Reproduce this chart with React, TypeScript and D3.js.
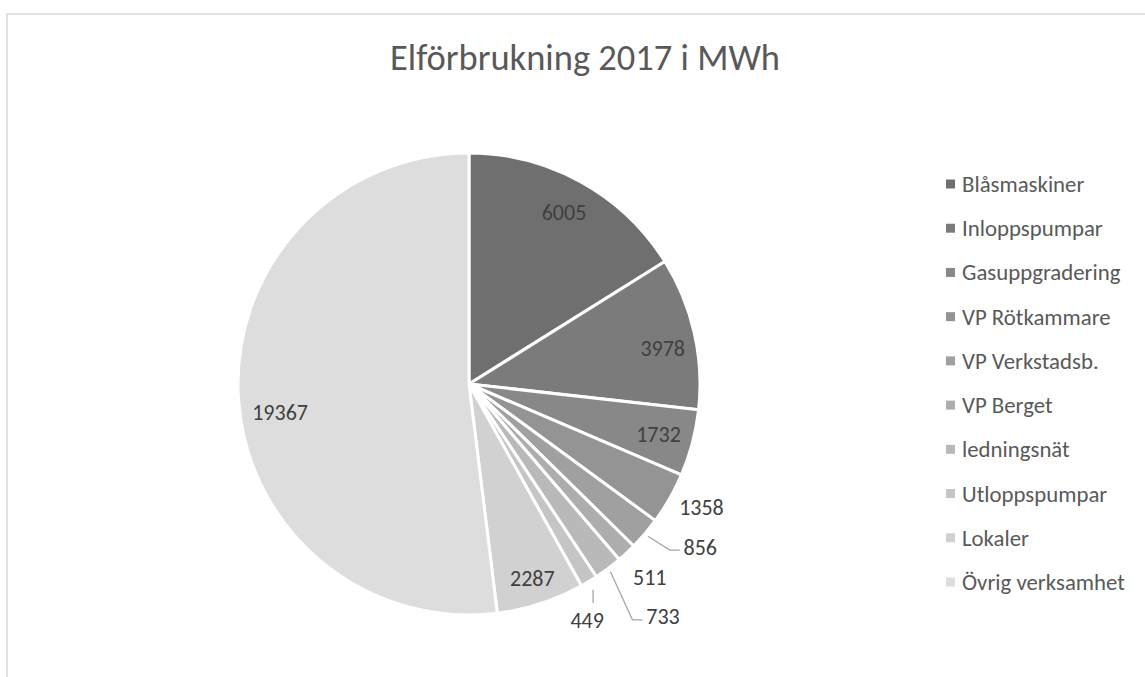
import React from "react";
import * as d3 from "d3";

const categories = [
  "Blåsmaskiner",
  "Inloppspumpar",
  "Gasuppgradering",
  "VP Rötkammare",
  "VP Verkstadsb.",
  "VP Berget",
  "ledningsnät",
  "Utloppspumpar",
  "Lokaler",
  "Övrig verksamhet",
];
const values = [6005, 3978, 1732, 1358, 856, 511, 733, 449, 2287, 19367];
const title = "Elförbrukning 2017 i MWh";

// layout / style (not data)
const W = 1145;
const H = 677;
const CX = 469;
const CY = 384;
const R = 231;
const colors = ["#6f6f6f", "#7b7b7b", "#888888", "#949494", "#a0a0a0", "#adadad", "#b9b9b9", "#c5c5c5", "#d1d1d1", "#dddddd"];
// label placement: radius (px), angle shift from slice mid-angle (deg), leader type
type Place = { r: number; shift: number; leader: "none" | "h" | "v" };
const placements: Place[] = [
  { r: 196, shift: 0, leader: "none" },
  { r: 197, shift: 2.3, leader: "none" },
  { r: 196, shift: 0, leader: "none" },
  { r: 263, shift: -1.8, leader: "none" },
  { r: 283, shift: -5.2, leader: "h" },
  { r: 265, shift: 0, leader: "none" },
  { r: 303, shift: -2.8, leader: "h" },
  { r: 264, shift: 4.7, leader: "v" },
  { r: 204, shift: 0, leader: "none" },
  { r: 191, shift: -4.9, leader: "none" },
];
const FONT = "Carlito, Calibri, Lato, 'Open Sans', sans-serif";
const LABEL_SIZE = 22;
const LEGEND_SIZE = 22.8;

export default function App() {
  const pie = d3.pie<number>().sort(null).value((d) => d);
  const arcs = pie(values);
  const arcGen = d3.arc<d3.PieArcDatum<number>>().innerRadius(0).outerRadius(R);
  const polar = (r: number, a: number) => [Math.sin(a) * r, -Math.cos(a) * r];

  const legendY = d3.scalePoint<string>().domain(categories).range([184, 582]);

  return (
    <div style={{ position: "absolute", left: 0, top: 0 }}>
      <svg width={W} height={H} style={{ display: "block", background: "#fff" }}>
        <rect x={7} y={14} width={W + 20} height={H + 20} fill="#fff" stroke="#d9d9d9" strokeWidth={1.5} />
        <text x={585} y={70} textAnchor="middle" fontFamily={FONT} fontWeight={300} fontSize={36.5} fill="#595959">
          {title}
        </text>
        <g transform={`translate(${CX},${CY})`}>
          {arcs.map((a, i) => (
            <path key={i} d={arcGen(a) || ""} fill={colors[i]} stroke="#fff" strokeWidth={3} strokeLinejoin="round" />
          ))}
          {arcs.map((a, i) => {
            const mid = (a.startAngle + a.endAngle) / 2;
            const p = placements[i];
            const ang = mid + (p.shift * Math.PI) / 180;
            const [x, y] = polar(p.r, ang);
            const label = String(values[i]);
            const halfW = label.length * LABEL_SIZE * 0.25;
            let leader = null;
            const [sx, sy] = polar(R + 4, mid);
            if (p.leader === "h") {
              const ex = x - halfW - 4;
              const ey = y + 3;
              leader = <polyline points={`${sx},${sy} ${ex - 10},${ey} ${ex},${ey}`} fill="none" stroke="#a6a6a6" strokeWidth={1.3} />;
            } else if (p.leader === "v") {
              const ey = y - 17;
              leader = <polyline points={`${sx + 2},${sy + 5} ${sx + 2},${ey}`} fill="none" stroke="#a6a6a6" strokeWidth={1.3} />;
            }
            return (
              <g key={i}>
                {leader}
                <text x={x} y={y} dy="0.35em" textAnchor="middle" fontFamily={FONT} fontSize={LABEL_SIZE} fill="#404040">
                  {label}
                </text>
              </g>
            );
          })}
        </g>
        <g>
          {categories.map((c, i) => (
            <g key={c} transform={`translate(946,${legendY(c)})`}>
              <rect x={0} y={-4.5} width={9} height={9} fill={colors[i]} />
              <text x={16} y={0} dy="0.35em" fontFamily={FONT} fontSize={LEGEND_SIZE} fill="#595959">
                {c}
              </text>
            </g>
          ))}
        </g>
      </svg>
    </div>
  );
}
